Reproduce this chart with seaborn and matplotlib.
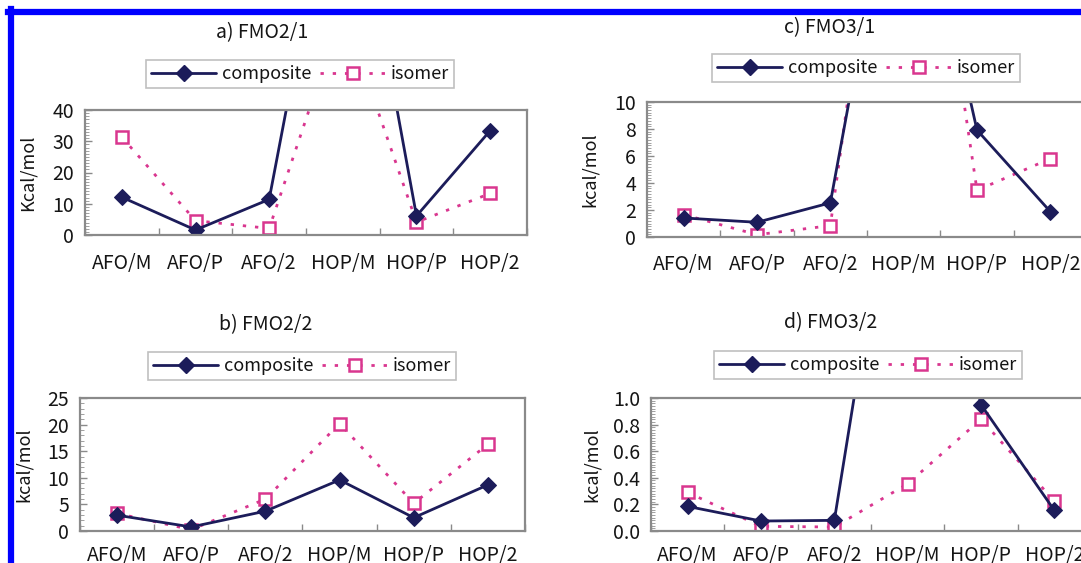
import numpy as np
import pandas as pd
import matplotlib
matplotlib.use("Agg")
import matplotlib.pyplot as plt
import seaborn as sns
from matplotlib.ticker import MultipleLocator, FormatStrFormatter
from matplotlib.lines import Line2D

sns.set_style("white")
plt.rcParams['font.family'] = ['Noto Sans CJK JP', 'DejaVu Sans']

categories = ['AFO/M', 'AFO/P', 'AFO/2', 'HOP/M', 'HOP/P', 'HOP/2']

# a) FMO2/1  (HOP/M values lie above the plotted range)
a_composite = [12.1, 1.6, 11.4, 135, 6.1, 33.4]
a_isomer = [31.3, 4.6, 2.1, 72, 4.1, 13.3]
# b) FMO2/2
b_composite = [2.97, 0.76, 3.73, 9.6, 2.5, 8.67]
b_isomer = [3.3, 0.25, 6.0, 20.2, 5.2, 16.3]
# c) FMO3/1
c_composite = [1.41, 1.09, 2.53, 32, 7.92, 1.88]
c_isomer = [1.66, 0.17, 0.84, 40, 3.46, 5.8]
# d) FMO3/2
d_composite = [0.185, 0.075, 0.08, 3.5, 0.95, 0.155]
d_isomer = [0.29, 0.035, 0.03, 0.355, 0.84, 0.225]

W, H = 1081, 563
navy = '#1c1c5a'
pink = '#d9368f'
grey = '#8a8a8a'
txt = '#151515'

fig = plt.figure(figsize=(W / 100, H / 100), dpi=100)


def px_axes(l, r, t, b):
    return fig.add_axes([l / W, 1 - b / H, (r - l) / W, (b - t) / H])


panels = [
    # title, ylabel, comp, iso, ymax, major, minor, fmt, axes box, title pos, legend pos, ylabel x, xlabel pad
    ('a) FMO2/1', 'Kcal/mol', a_composite, a_isomer, 40, 10, 1, '%d',
     (85, 527, 110, 235), (262, 33), (300, 74), 28, 13),
    ('c) FMO3/1', 'kcal/mol', c_composite, c_isomer, 10, 2, 0.2, '%d',
     (647, 1087, 102, 237), (830, 28), (866, 68), 590, 12),
    ('b) FMO2/2', 'kcal/mol', b_composite, b_isomer, 25, 5, 1, '%d',
     (80, 525, 398, 531), (266, 325), (302, 366), 24, 10),
    ('d) FMO3/2', 'kcal/mol', d_composite, d_isomer, 1.0, 0.2, 0.02, '%.1f',
     (651, 1091, 398, 531), (831, 323), (868, 365), 592, 10),
]

for title, ylab, comp, iso, ymax, major, minor, fmt, box, tpos, lpos, ylx, xpad in panels:
    ax = px_axes(*box)
    df = pd.DataFrame({'x': np.arange(len(categories)), 'composite': comp, 'isomer': iso})
    sns.lineplot(data=df, x='x', y='isomer', ax=ax, color=pink, lw=2,
                 linestyle=(0, (1.2, 3.2)), marker='s', markersize=8,
                 markerfacecolor='white', markeredgecolor=pink, markeredgewidth=1.8,
                 sort=False)
    sns.lineplot(data=df, x='x', y='composite', ax=ax, color=navy, lw=2,
                 marker='D', markersize=8, markerfacecolor=navy, markeredgecolor=navy,
                 sort=False)
    ax.set_xlim(-0.5, len(categories) - 0.5)
    ax.set_ylim(0, ymax)
    ax.set_xticks(np.arange(len(categories)))
    ax.set_xticklabels(categories)
    ax.set_xticks(np.arange(len(categories) + 1) - 0.5, minor=True)
    ax.yaxis.set_major_locator(MultipleLocator(major))
    ax.yaxis.set_minor_locator(MultipleLocator(minor))
    ax.yaxis.set_major_formatter(FormatStrFormatter(fmt))
    ax.tick_params(axis='x', which='major', bottom=True, length=0, pad=xpad,
                   labelsize=14, labelcolor=txt)
    ax.tick_params(axis='x', which='minor', bottom=True, direction='in', length=5,
                   color=grey, width=1)
    ax.tick_params(axis='y', which='major', left=True, direction='in', length=5,
                   color=grey, width=1, pad=8, labelsize=14, labelcolor=txt)
    ax.tick_params(axis='y', which='minor', left=True, direction='in', length=3,
                   color='#a0a0a0', width=0.7)
    ax.set_xlabel('')
    ax.set_ylabel('')
    for s in ax.spines.values():
        s.set_color(grey)
        s.set_linewidth(1.6)
    fig.text(ylx / W, 1 - ((box[2] + box[3]) / 2) / H, ylab, rotation=90,
             ha='center', va='center', fontsize=13, color=txt)
    fig.text(tpos[0] / W, 1 - tpos[1] / H, title, ha='center', va='center',
             fontsize=14, color=txt)
    handles = [
        Line2D([], [], color=navy, lw=2, marker='D', markersize=8),
        Line2D([], [], color=pink, lw=2, linestyle=(0, (1.2, 3.2)), marker='s',
               markersize=8, markerfacecolor='white', markeredgecolor=pink,
               markeredgewidth=1.8),
    ]
    leg = fig.legend(handles, ['composite', 'isomer'], loc='center', ncol=2,
                     bbox_to_anchor=(lpos[0] / W, 1 - lpos[1] / H),
                     fontsize=13, frameon=True, fancybox=False, handlelength=3.6,
                     handletextpad=0.3, columnspacing=0.5, borderpad=0.3,
                     borderaxespad=0)
    leg.get_frame().set_edgecolor('#b0b0b0')
    leg.get_frame().set_linewidth(1.2)
    for t in leg.get_texts():
        t.set_color(txt)

# blue frame around the figure (cut off on right and bottom)
fig.add_artist(Line2D([10.5 / W, 10.5 / W], [0, 1 - 9 / H], color='#0000ff', lw=4.5,
                      transform=fig.transFigure, solid_capstyle='projecting'))
fig.add_artist(Line2D([8 / W, 1], [1 - 12 / H, 1 - 12 / H], color='#0000ff', lw=4.5,
                      transform=fig.transFigure, solid_capstyle='projecting'))

fig.savefig('out.png', dpi=100)
